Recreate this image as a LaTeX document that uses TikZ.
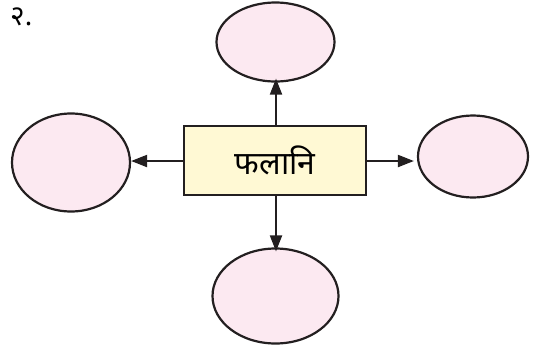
\documentclass[tikz,border=0pt]{standalone}
\usepackage{fontspec}
\newfontfamily\devfont[Script=Devanagari]{Noto Sans}
\usetikzlibrary{shapes.geometric,arrows.meta}
\definecolor{ellfill}{HTML}{FCE9F1}
\definecolor{boxfill}{HTML}{FFF9D4}
\definecolor{ink}{HTML}{231F20}
\begin{document}
\begin{tikzpicture}[x=1pt,y=-1pt,
  bubble/.style={draw=ink,line width=2.2pt,fill=ellfill,ellipse,inner sep=0pt},
  centerbox/.style={draw=ink,line width=2.2pt,fill=boxfill,rectangle,inner sep=0pt,
     minimum width=182pt,minimum height=69pt,font=\devfont\fontsize{32}{36}\selectfont},
  conn/.style={draw=ink,line width=2pt,-{Triangle[length=16pt,width=12pt]}}]
\useasboundingbox (0,0) rectangle (535,354);
\node[centerbox] (c) at (275,160.5) {फलानि};
\node[bubble,minimum width=118pt,minimum height=98pt] (l) at (71,162.5) {};
\node[bubble,minimum width=118pt,minimum height=79pt] (t) at (275.5,42) {};
\node[bubble,minimum width=110pt,minimum height=82pt] (r) at (473,156.5) {};
\node[bubble,minimum width=126pt,minimum height=95pt] (b) at (275.5,296) {};
\node[anchor=west,inner sep=0pt,font=\devfont\fontsize{28}{32}\selectfont] (num) at (10,17) {२.};
\draw[conn] (c.west |- 0,161) -- (l.east |- 0,161);
\draw[conn] (c.east |- 0,161) -- ([xshift=-3pt]r.west |- 0,161);
\draw[conn] (c.north -| 276,0) -- ([yshift=4pt]t.south -| 276,0);
\draw[conn] (c.south -| 276,0) -- ([yshift=-4pt]b.north -| 276,0);
\end{tikzpicture}
\end{document}
